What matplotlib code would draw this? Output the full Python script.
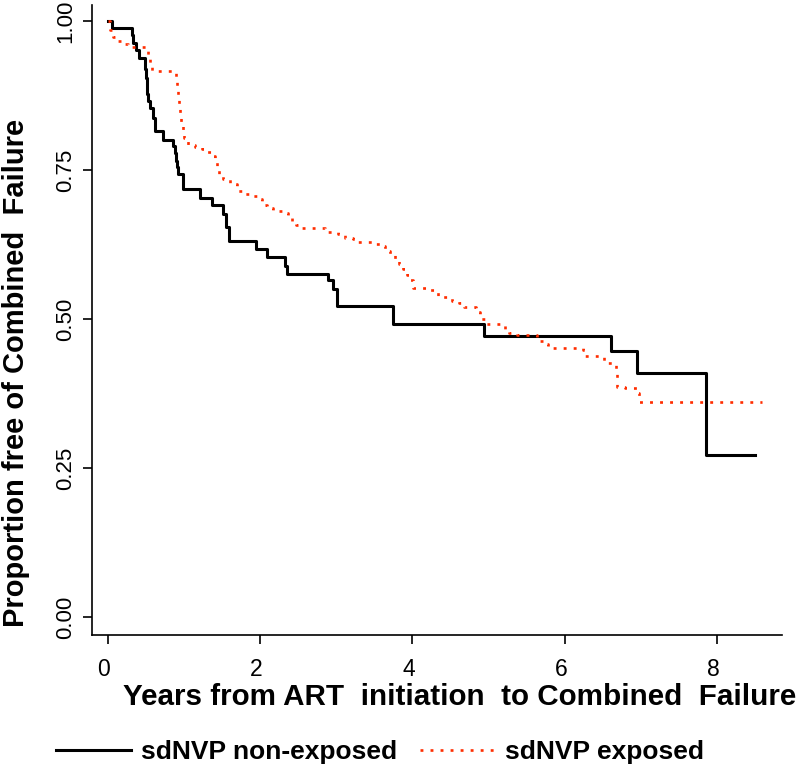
import matplotlib
matplotlib.use("Agg")
import matplotlib.pyplot as plt
import matplotlib.transforms as mtransforms
from matplotlib.lines import Line2D
from matplotlib.ticker import FormatStrFormatter

plt.rcParams['font.family'] = ['Liberation Sans', 'DejaVu Sans']

# --- DATA ---
# sdNVP non-exposed (black, solid) : event times and survival after each step
t_nonexp = [0.0, 0.06, 0.315, 0.336, 0.371, 0.415, 0.49, 0.50, 0.51, 0.515,
            0.525, 0.555, 0.59, 0.62, 0.73, 0.86, 0.883, 0.896, 0.91, 0.92,
            0.984, 1.21, 1.365, 1.517, 1.55, 1.596, 1.953, 2.095, 2.327, 2.35,
            2.895, 2.953, 3.005, 3.748, 4.942, 6.605, 6.942, 7.852, 8.495]
s_nonexp = [1.0, 0.988, 0.976, 0.963, 0.951, 0.938, 0.92, 0.905, 0.89, 0.877,
            0.866, 0.854, 0.838, 0.815, 0.801, 0.790, 0.779, 0.766, 0.755, 0.743,
            0.718, 0.704, 0.692, 0.677, 0.655, 0.632, 0.618, 0.604, 0.590, 0.576,
            0.566, 0.551, 0.523, 0.492, 0.472, 0.446, 0.409, 0.272, 0.272]

# sdNVP exposed (red, dotted)
t_exp = [0.0, 0.03, 0.066, 0.096, 0.184, 0.27, 0.533, 0.549, 0.577, 0.883,
         0.903, 0.913, 0.923, 0.933, 0.945, 0.958, 0.984, 1.005, 1.058, 1.146,
         1.234, 1.299, 1.365, 1.408, 1.43, 1.465, 1.517, 1.605, 1.693, 1.78,
         1.911, 1.999, 2.025, 2.09, 2.173, 2.283, 2.37, 2.415, 2.471, 2.546,
         2.852, 3.026, 3.114, 3.223, 3.289, 3.508, 3.583, 3.639, 3.705, 3.77,
         3.827, 3.879, 3.924, 3.967, 4.003, 4.207, 4.282, 4.339, 4.514, 4.614,
         4.676, 4.833, 4.886, 4.951, 5.214, 5.27, 5.367, 5.638, 5.717, 5.782,
         6.241, 6.264, 6.513, 6.614, 6.671, 6.684, 6.69, 6.789, 6.963, 6.97,
         8.583]
s_exp = [1.0, 0.985, 0.974, 0.966, 0.961, 0.956, 0.943, 0.927, 0.917, 0.913,
         0.899, 0.882, 0.868, 0.854, 0.840, 0.829, 0.818, 0.804, 0.793, 0.789,
         0.785, 0.781, 0.774, 0.765, 0.754, 0.740, 0.735, 0.726, 0.715, 0.710,
         0.706, 0.701, 0.692, 0.687, 0.681, 0.679, 0.673, 0.665, 0.658, 0.653,
         0.647, 0.643, 0.636, 0.634, 0.629, 0.627, 0.622, 0.615, 0.608, 0.599,
         0.593, 0.584, 0.575, 0.565, 0.553, 0.549, 0.545, 0.537, 0.530, 0.527,
         0.520, 0.512, 0.501, 0.492, 0.482, 0.477, 0.474, 0.463, 0.459, 0.452,
         0.449, 0.439, 0.426, 0.424, 0.416, 0.402, 0.387, 0.384, 0.376, 0.361,
         0.361]

x_ticks = [0, 2, 4, 6, 8]
y_ticks = [0.0, 0.25, 0.50, 0.75, 1.0]
labels = ["sdNVP non-exposed", "sdNVP exposed"]
RED = '#ff2d00'
red_dots = (0, (1.1, 2.7))

fig = plt.figure(figsize=(8, 7.7), dpi=100)
ax = fig.add_axes([0.115, 0.175, 0.8625, 0.8185])

ax.step(t_nonexp, s_nonexp, where='post', color='black', lw=2.2)
ax.step(t_exp, s_exp, where='post', color=RED, lw=1.9, linestyle=red_dots)

ax.set_xlim(-0.206, 8.85)
ax.set_ylim(-0.03, 1.027)
ax.set_xticks(x_ticks)
ax.set_yticks(y_ticks)
ax.yaxis.set_major_formatter(FormatStrFormatter('%.2f'))

for side in ['top', 'right']:
    ax.spines[side].set_visible(False)
for side in ['left', 'bottom']:
    ax.spines[side].set_linewidth(1.2)

ax.tick_params(axis='x', length=6.5, width=1.2, pad=10, labelsize=16.5)
ax.tick_params(axis='y', length=6.5, width=1.2, pad=5, labelsize=16)
for lab in ax.get_yticklabels():
    lab.set_rotation(90)
    lab.set_va('center')
# the x tick labels sit a little left of their ticks in the original
shift = mtransforms.ScaledTranslation(-4 / 100, 0, fig.dpi_scale_trans)
for lab in ax.get_xticklabels():
    lab.set_transform(lab.get_transform() + shift)

ax.set_ylabel("Proportion free of Combined  Failure", fontsize=21,
              fontweight='bold')
ax.yaxis.set_label_coords(-0.09, 0.417)

fig.text(123 / 800, 1 - 697 / 770,
         "Years from ART  initiation  to Combined  Failure",
         fontsize=21.3, fontweight='bold', ha='left', va='center')

handles = [Line2D([], [], color='black', lw=2.2),
           Line2D([], [], color=RED, lw=1.9, linestyle=red_dots)]
fig.legend(handles, labels, loc='center left',
           bbox_to_anchor=(56 / 800, 1 - 752 / 770), ncol=2, frameon=False,
           prop={'size': 19, 'weight': 'bold'}, handlelength=2.84,
           handletextpad=0.38, columnspacing=0.87, borderpad=0,
           borderaxespad=0)

fig.savefig("out.png", dpi=100)
